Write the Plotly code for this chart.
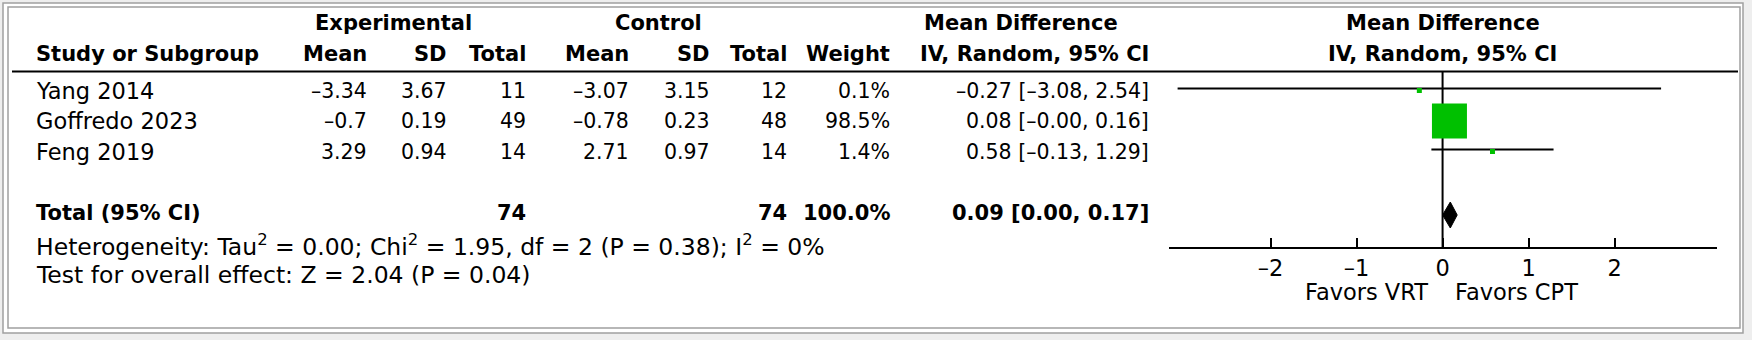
import math
import plotly.graph_objects as go

# Study-level data
studies = ["Yang 2014", "Goffredo 2023", "Feng 2019"]
exp_mean = [-3.34, -0.7, 3.29]
exp_sd = [3.67, 0.19, 0.94]
exp_n = [11, 49, 14]
ctl_mean = [-3.07, -0.78, 2.71]
ctl_sd = [3.15, 0.23, 0.97]
ctl_n = [12, 48, 14]
weight = [0.1, 98.5, 1.4]
md = [-0.27, 0.08, 0.58]
ci_lo = [-3.08, -0.0, -0.13]
ci_hi = [2.54, 0.16, 1.29]

# Pooled result
total_exp_n = 74
total_ctl_n = 74
total_weight = 100.0
pooled_md = 0.09
pooled_lo = 0.00
pooled_hi = 0.17

heterogeneity = ("Heterogeneity: Tau<sup>2</sup> = 0.00; Chi<sup>2</sup> = 1.95, df = 2 "
                 "(P = 0.38); I<sup>2</sup> = 0%")
overall = "Test for overall effect: Z = 2.04 (P = 0.04)"

tick_vals = [-2, -1, 0, 1, 2]
tick_text = ["–2", "–1", "0", "1", "2"]
favors_left = "Favors VRT"
favors_right = "Favors CPT"

W, H = 1752, 340
FONT = "DejaVu Sans"
FS_TEXT = 22.5   # study names and axis labels
FS_NOTE = 23.5   # heterogeneity / overall-effect notes
FS_NUM = 20.5    # numeric cells
FS_BOLD = 21     # bold headers and total row
GREEN = "#00c000"


def num(v, fmt=None):
    s = format(v, fmt) if fmt else str(v)
    return s.replace("-", "–")


def ci_text(m, lo, hi):
    return f"{num(m, '.2f')} [{num(lo, '.2f')}, {num(hi, '.2f')}]"


# layout of the table (pixel units)
row0, row_step = 90.5, 30.5
rows_y = [row0 + i * row_step for i in range(len(studies))]
total_y = 213
het_y, test_y = 245.5, 274.5
head1_y, head2_y = 23, 54
rule_y = 71.5
axis_y = 248
favors_y = 292

col_left = 34
col_right = {"em": 369, "esd": 449, "en": 528, "cm": 631, "csd": 712, "cn": 789,
             "w": 892, "md": 1151}
plot_x0, plot_x1 = 1169, 1717
x_range = [-3.18, 3.19]
zero_px = plot_x0 + (0 - x_range[0]) / (x_range[1] - x_range[0]) * (plot_x1 - plot_x0)

fig = go.Figure()

# confidence interval whiskers
for y, lo, hi in zip(rows_y, ci_lo, ci_hi):
    fig.add_trace(go.Scatter(x=[lo, hi], y=[y - 2, y - 2], mode="lines",
                             line=dict(color="black", width=2), hoverinfo="skip",
                             showlegend=False))

# study squares sized by weight
wmax = max(weight)
sizes = [max(5, 35 * math.sqrt(w / wmax)) for w in weight]
fig.add_trace(go.Scatter(x=md, y=rows_y, mode="markers",
                         marker=dict(symbol="square", size=sizes, color=GREEN,
                                     opacity=1, line=dict(width=0)),
                         opacity=1, hoverinfo="skip", showlegend=False, cliponaxis=False))

# pooled diamond
dh = 13
fig.add_trace(go.Scatter(x=[pooled_lo, pooled_md, pooled_hi, pooled_md, pooled_lo],
                         y=[total_y + 2, total_y + 2 - dh, total_y + 2, total_y + 2 + dh, total_y + 2],
                         mode="lines", fill="toself", fillcolor="black",
                         line=dict(color="black", width=1), hoverinfo="skip",
                         showlegend=False))

shapes = [
    # page frame
    dict(type="rect", xref="paper", yref="paper", x0=3 / W, x1=1743 / W,
         y0=1 - 333 / H, y1=1 - 3 / H, fillcolor="white",
         line=dict(color="#a0a0a0", width=1.5), layer="below"),
    dict(type="rect", xref="paper", yref="paper", x0=8 / W, x1=1740 / W,
         y0=1 - 328 / H, y1=1 - 7 / H,
         line=dict(color="#a0a0a0", width=1.5), layer="below"),
    # line of no effect, kept beneath the study squares
    dict(type="line", xref="x", yref="y", x0=0, x1=0, y0=rule_y, y1=axis_y,
         line=dict(color="black", width=2), layer="below"),
    # header rule
    dict(type="line", xref="paper", yref="y", x0=12 / W, x1=1738 / W,
         y0=rule_y, y1=rule_y, line=dict(color="black", width=2)),
]

ann = []


def txt(x, y, s, anchor="left", bold=False, size=None):
    if size is None:
        size = FS_BOLD if bold else FS_TEXT
    ann.append(dict(x=x / W, y=y, xref="paper", yref="y", text=f"<b>{s}</b>" if bold else s,
                    showarrow=False, xanchor=anchor, yanchor="middle",
                    font=dict(family=FONT, size=size, color="black")))


# headers
txt(393, head1_y, "Experimental", "center", True)
txt(658, head1_y, "Control", "center", True)
txt(1021, head1_y, "Mean Difference", "center", True)
txt(zero_px, head1_y, "Mean Difference", "center", True)
txt(col_left, head2_y, "Study or Subgroup", "left", True)
for key, label in [("em", "Mean"), ("esd", "SD"), ("en", "Total"), ("cm", "Mean"),
                   ("csd", "SD"), ("cn", "Total"), ("w", "Weight"),
                   ("md", "IV, Random, 95% CI")]:
    txt(col_right[key], head2_y, label, "right", True)
txt(zero_px, head2_y, "IV, Random, 95% CI", "center", True)

# study rows
for i, y in enumerate(rows_y):
    txt(col_left, y, studies[i])
    txt(col_right["em"], y, num(exp_mean[i]), "right", size=FS_NUM)
    txt(col_right["esd"], y, num(exp_sd[i]), "right", size=FS_NUM)
    txt(col_right["en"], y, str(exp_n[i]), "right", size=FS_NUM)
    txt(col_right["cm"], y, num(ctl_mean[i]), "right", size=FS_NUM)
    txt(col_right["csd"], y, num(ctl_sd[i]), "right", size=FS_NUM)
    txt(col_right["cn"], y, str(ctl_n[i]), "right", size=FS_NUM)
    txt(col_right["w"], y, f"{weight[i]:.1f}%", "right", size=FS_NUM)
    txt(col_right["md"], y, ci_text(md[i], ci_lo[i], ci_hi[i]), "right", size=FS_NUM)

# total row
txt(col_left, total_y, "Total (95% CI)", "left", True)
txt(col_right["en"], total_y, str(total_exp_n), "right", True)
txt(col_right["cn"], total_y, str(total_ctl_n), "right", True)
txt(col_right["w"], total_y, f"{total_weight:.1f}%", "right", True)
txt(col_right["md"], total_y, ci_text(pooled_md, pooled_lo, pooled_hi), "right", True)

txt(col_left, het_y, heterogeneity, size=FS_NOTE)
txt(col_left, test_y, overall, size=FS_NOTE)

# direction labels under the axis
txt(zero_px - 13, favors_y, favors_left, "right")
txt(zero_px + 10, favors_y, favors_right, "left")

fig.update_layout(
    width=W, height=H, margin=dict(l=0, r=0, t=0, b=0),
    paper_bgcolor="#eeeeee", plot_bgcolor="rgba(0,0,0,0)",
    shapes=shapes, annotations=ann, showlegend=False,
    xaxis=dict(domain=[plot_x0 / W, plot_x1 / W], range=x_range, anchor="free",
               position=1 - axis_y / H, showline=True, linecolor="black", linewidth=2,
               ticks="inside", ticklen=9, tickwidth=2, tickcolor="black",
               tickvals=tick_vals, ticktext=tick_text, showgrid=False, zeroline=False,
               tickfont=dict(family=FONT, size=FS_TEXT, color="black"), fixedrange=True),
    yaxis=dict(domain=[0, 1], range=[H, 0], visible=False, showgrid=False,
               zeroline=False, fixedrange=True),
)

fig.write_html("out.html")
